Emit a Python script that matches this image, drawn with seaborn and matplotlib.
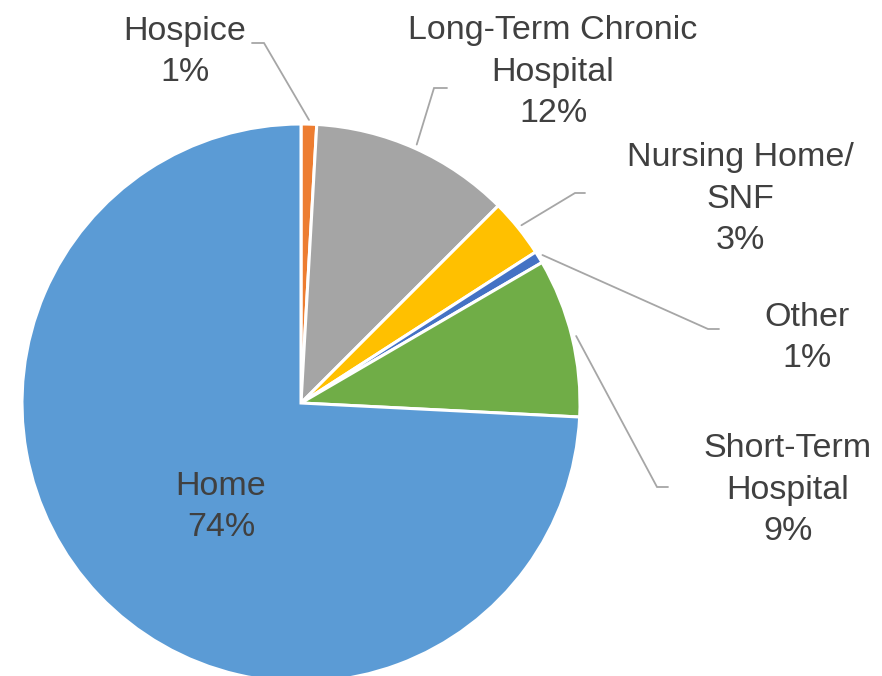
import numpy as np
import matplotlib
matplotlib.use("Agg")
import matplotlib.pyplot as plt
import seaborn as sns

# Discharge destinations, clockwise from 12 o'clock
categories = ["Hospice", "Long-Term Chronic\nHospital", "Nursing Home/\nSNF",
              "Other", "Short-Term\nHospital", "Home"]
shares = [0.9, 11.6, 3.4, 0.7, 9.2, 74.2]
colors = ["#ED7D31", "#A5A5A5", "#FFC000", "#4472C4", "#70AD47", "#5B9BD5"]

sns.set_theme(style="white")
plt.rcParams["font.family"] = ["Liberation Sans", "DejaVu Sans"]

W, H = 882, 676
fig = plt.figure(figsize=(W / 100, H / 100), dpi=100)
ax = fig.add_axes([0, 0, 1, 1])

cx, cy, r = 301, H - 403, 279
wedges, _ = ax.pie(shares, colors=colors, startangle=90, counterclock=False,
                   center=(cx, cy), radius=r, frame=True,
                   wedgeprops=dict(edgecolor="white", linewidth=2.2))
ax.set_xlim(0, W)
ax.set_ylim(0, H)
ax.set_aspect("equal")
ax.axis("off")

text_color = "#404040"
line_color = "#A6A6A6"

# label centre (x, y from top) and the leader-line elbow for each slice
label_pos = {
    "Hospice": (185, 52),
    "Long-Term Chronic\nHospital": (553, 72),
    "Nursing Home/\nSNF": (740, 199),
    "Other": (807, 338),
    "Short-Term\nHospital": (788, 490),
    "Home": (221, 507),
}
elbows = {
    "Hospice": ((264, 43), (252, 43)),
    "Long-Term Chronic\nHospital": ((434, 88), (447, 88)),
    "Nursing Home/\nSNF": ((575, 193), (585, 193)),
    "Other": ((708, 329), (719, 329)),
    "Short-Term\nHospital": ((657, 487), (668, 487)),
}

for w, cat, val in zip(wedges, categories, shares):
    lx, ly = label_pos[cat]
    ax.text(lx, H - ly, f"{cat}\n{val:.0f}%", ha="center", va="center",
            fontsize=24.5, color=text_color, linespacing=1.42)
    if cat in elbows:
        mid = np.deg2rad((w.theta1 + w.theta2) / 2)
        sx = cx + r * 1.015 * np.cos(mid)
        sy = cy + r * 1.015 * np.sin(mid)
        (ex, ey), (tx, ty) = elbows[cat]
        ax.plot([sx, ex, tx], [sy, H - ey, H - ty], color=line_color,
                linewidth=1.3, solid_joinstyle="miter")

fig.savefig("out.png", dpi=100, facecolor="white")
